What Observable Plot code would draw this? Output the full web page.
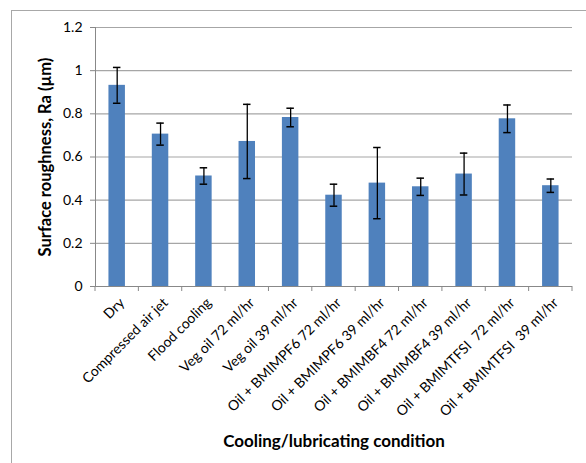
<!DOCTYPE html>
<html>
<head>
<meta charset="utf-8">
<script src="https://cdn.jsdelivr.net/npm/d3@7"></script>
<script src="https://cdn.jsdelivr.net/npm/@observablehq/plot@0.6"></script>
<style>
  html, body { margin: 0; padding: 0; background: #fff; }
  #wrap { position: relative; width: 586px; height: 463px; overflow: hidden; }
  #border { position: absolute; left: 11px; top: 10px; width: 600px; height: 470px;
            border-left: 1.5px solid #a8a8a8; border-top: 1.5px solid #a8a8a8; }
  #chart { position: absolute; left: 0; top: 0; }
</style>
</head>
<body>
<div id="wrap"><div id="border"></div><div id="chart"></div></div>
<script>
const categories = [
  "Dry",
  "Compressed air jet",
  "Flood cooling",
  "Veg oil 72 ml/hr",
  "Veg oil 39 ml/hr",
  "Oil + BMIMPF6 72 ml/hr",
  "Oil + BMIMPF6 39 ml/hr",
  "Oil + BMIMBF4 72 ml/hr",
  "Oil + BMIMBF4 39 ml/hr",
  "Oil + BMIMTFSI  72 ml/hr",
  "Oil + BMIMTFSI  39 ml/hr"
];
const values = [0.932, 0.706, 0.512, 0.672, 0.783, 0.423, 0.479, 0.462, 0.521, 0.777, 0.467];
const errors = [0.083, 0.051, 0.038, 0.172, 0.043, 0.051, 0.165, 0.040, 0.097, 0.064, 0.031];
const yTicks = [0, 0.2, 0.4, 0.6, 0.8, 1, 1.2];
const yLabel = "Surface roughness, Ra (\u00b5m)";
const xLabel = "Cooling/lubricating condition";

const data = categories.map((c, i) => ({cat: c, v: values[i], e: errors[i]}));
const font = "Lato, 'Open Sans', sans-serif";

const chart = Plot.plot({
  width: 586,
  height: 463,
  marginLeft: 95,
  marginRight: 14,
  marginTop: 27,
  marginBottom: 177,
  style: {fontFamily: font, color: "#000", background: "transparent"},
  x: {domain: categories, paddingInner: 0.62, paddingOuter: 0.31, round: false, label: null},
  y: {domain: [0, 1.2], label: null},
  marks: [
    Plot.gridY(yTicks, {stroke: "#a6a6a6", strokeOpacity: 1, strokeWidth: 1.2}),
    Plot.axisY(yTicks, {tickSize: 5, tickPadding: 8, stroke: "#888", fontSize: 14,
      tickFormat: d => String(+d.toFixed(1)), label: null}),
    Plot.axisX({tickRotate: -45, tickSize: 0, tickPadding: 14, dx: 5, fontSize: 14, label: null}),
    Plot.frame({anchor: "left", stroke: "#888"}),
    Plot.ruleY([0], {stroke: "#888"}),
    Plot.barY(data, {x: "cat", y: "v", fill: "#4f81bd"}),
    Plot.ruleX(data, {x: "cat", y1: d => d.v - d.e, y2: d => d.v + d.e, stroke: "#000", strokeWidth: 1.3}),
    Plot.tickY(data, {x: "cat", y: d => d.v - d.e, stroke: "#000", strokeWidth: 1.5, insetLeft: 4.5, insetRight: 4.5}),
    Plot.tickY(data, {x: "cat", y: d => d.v + d.e, stroke: "#000", strokeWidth: 1.5, insetLeft: 4.5, insetRight: 4.5}),
    Plot.text([yLabel], {frameAnchor: "left", dx: -50, rotate: -90, textAnchor: "middle", lineAnchor: "middle",
      fontSize: 16.5, fontWeight: "bold", fill: "#000"}),
    Plot.text([xLabel], {frameAnchor: "bottom", dy: 155, lineAnchor: "middle", textAnchor: "middle",
      fontSize: 17, fontWeight: "bold", fill: "#000"})
  ]
});

document.getElementById("chart").appendChild(chart);

// category boundary tick marks on the x axis, from the Plot scales
const xs = chart.scale("x");
const ys = chart.scale("y");
const y0 = ys.apply(0);
const svg = d3.select(chart);
const g = svg.append("g").attr("stroke", "#888");
for (let i = 0; i <= categories.length; i++) {
  const xp = xs.range[0] + i * xs.step;
  g.append("line").attr("x1", xp).attr("x2", xp).attr("y1", y0).attr("y2", y0 + 5);
}
</script>
</body>
</html>
